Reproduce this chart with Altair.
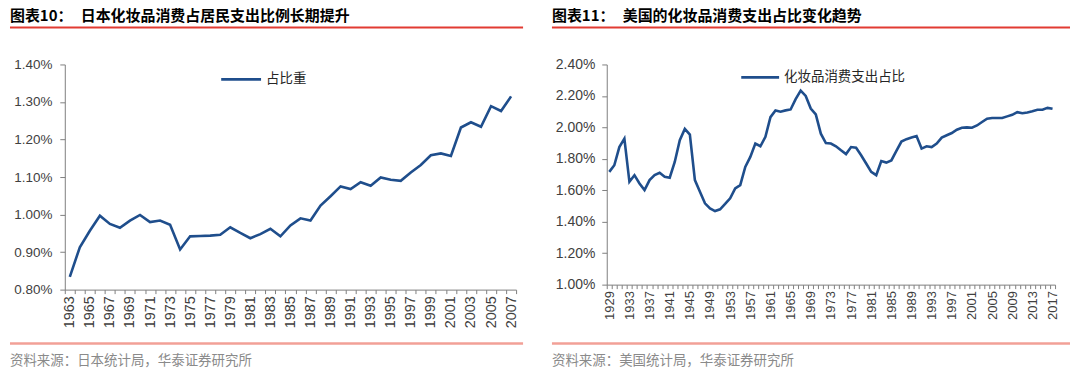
import altair as alt
import pandas as pd

# ---------------- data ----------------
jp_years = list(range(1963, 2008))
jp_share = [0.834, 0.913, 0.957, 0.997, 0.975, 0.965, 0.984, 0.999, 0.980, 0.984,
            0.973, 0.907, 0.942, 0.943, 0.944, 0.946, 0.966, 0.951, 0.937, 0.948,
            0.962, 0.942, 0.971, 0.990, 0.984, 1.024, 1.049, 1.075, 1.068, 1.086,
            1.077, 1.099, 1.093, 1.090, 1.112, 1.132, 1.158, 1.163, 1.156, 1.232,
            1.246, 1.234, 1.289, 1.276, 1.315]
jp_ticks = [0.008, 0.009, 0.010, 0.011, 0.012, 0.013, 0.014]

us_years = list(range(1929, 2018))
us_share = [1.717, 1.759, 1.875, 1.928, 1.654, 1.696, 1.643, 1.601, 1.665, 1.696,
            1.711, 1.686, 1.680, 1.780, 1.918, 1.990, 1.954, 1.665, 1.590, 1.517,
            1.485, 1.468, 1.479, 1.513, 1.549, 1.612, 1.633, 1.749, 1.812, 1.897,
            1.880, 1.940, 2.065, 2.108, 2.100, 2.108, 2.114, 2.180, 2.234, 2.200,
            2.120, 2.083, 1.960, 1.900, 1.897, 1.880, 1.854, 1.830, 1.875, 1.870,
            1.823, 1.770, 1.717, 1.696, 1.786, 1.776, 1.790, 1.850, 1.910, 1.925,
            1.935, 1.945, 1.865, 1.880, 1.875, 1.897, 1.935, 1.950, 1.964, 1.985,
            1.998, 2.000, 1.998, 2.012, 2.034, 2.055, 2.060, 2.060, 2.060, 2.070,
            2.080, 2.097, 2.090, 2.095, 2.103, 2.112, 2.112, 2.124, 2.118]
us_ticks = [0.010, 0.012, 0.014, 0.016, 0.018, 0.020, 0.022, 0.024]

jp_title_a, jp_title_b = "图表10：", "日本化妆品消费占居民支出比例长期提升"
us_title_a, us_title_b = "图表11：", "美国的化妆品消费支出占比变化趋势"
jp_legend = "占比重"
us_legend = "化妆品消费支出占比"
jp_source = "资料来源：日本统计局，华泰证券研究所"
us_source = "资料来源：美国统计局，华泰证券研究所"

# ---------------- styles ----------------
LINE = "#1F4E8C"
CJK = "Noto Sans CJK SC"
RED_TOP = "#E23B32"
RED_BOT = "#F2A097"

one = pd.DataFrame({"k": [0]})


def txt(s, x, y, size, color, weight="normal"):
    return alt.Chart(one).mark_text(
        text=s, align="left", baseline="middle", fontSize=size, color=color,
        fontWeight=weight, font=CJK
    ).encode(x=alt.value(x), y=alt.value(y))


def hrule(x1, x2, y, color, w, opacity=1.0):
    return alt.Chart(one).mark_rule(color=color, strokeWidth=w, opacity=opacity).encode(
        x=alt.value(x1), x2=alt.value(x2), y=alt.value(y)
    )


def panel(years, shares, start, step, ticks, width, height, xfs, yfs,
          title_a, title_b, legend, lx1, lx2, ly, source, rule_end, ylabpad):
    df = pd.DataFrame({"year": [str(y) for y in years], "share": [v / 100 for v in shares]})
    line = alt.Chart(df).mark_line(color=LINE, strokeWidth=2.6).encode(
        x=alt.X(
            "year:O",
            scale=alt.Scale(type="band", paddingInner=0, paddingOuter=0),
            bandPosition=0.5,
            axis=alt.Axis(
                title=None, labelAngle=270, labelAlign="right", labelBaseline="middle",
                tickBand="extent", labelOverlap=False, labelFontSize=xfs,
                tickSize=4, labelPadding=2,
                labelExpr=f"(toNumber(datum.value) - {start}) % {step} == 0 ? datum.label : ''",
            ),
        ),
        y=alt.Y(
            "share:Q",
            scale=alt.Scale(domain=[ticks[0], ticks[-1]], nice=False, zero=False),
            axis=alt.Axis(title=None, values=ticks, format=".2%", tickSize=5,
                          labelPadding=ylabpad, labelFontSize=yfs, grid=False),
        ),
    ).properties(width=width, height=height)

    decor = [
        hrule(-55, -54, -56, "#ffffff", 1, opacity=0),
        txt(title_a, -55, -48.5, 15, "#000000", "bold"),
        txt(title_b, 16, -48.5, 15, "#000000", "bold"),
        hrule(-55, rule_end, -37, RED_TOP, 2),
        hrule(-55, rule_end, 280, RED_BOT, 2.5),
        txt(source, -55, 298, 13.5, "#8a8a8a"),
        hrule(lx1, lx2, ly, LINE, 2.6),
        txt(legend, lx2 + 5, ly, 13.5, "#262626"),
    ]
    return alt.layer(line, *decor)


left = panel(jp_years, jp_share, 1963, 2, jp_ticks, 453, 226, 14.5, 13.5,
             jp_title_a, jp_title_b, jp_legend, 157, 197, 15, jp_source, 460, 8)
right = panel(us_years, us_share, 1929, 4, us_ticks, 450, 221, 13, 14,
              us_title_a, us_title_b, us_legend, 135, 173, 13, us_source, 465, 7)

chart = alt.hconcat(left, right, spacing=91, bounds="flush").properties(
    padding=0
).configure_view(stroke=None).configure_axis(
    domainColor="#7f7f7f", tickColor="#7f7f7f", labelColor="#404040",
    labelFont="Liberation Sans", grid=False
)

chart.save("out.html", embed_options={"renderer": "svg", "actions": False})
